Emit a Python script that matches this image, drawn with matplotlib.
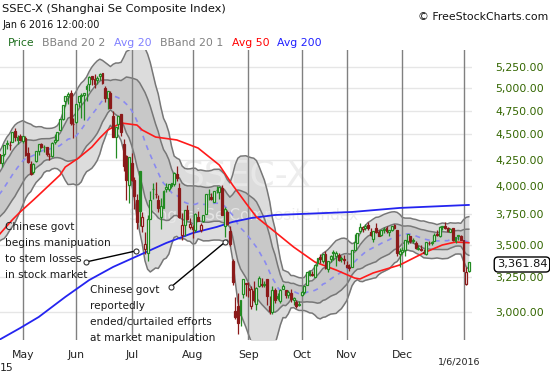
import numpy as np
import pandas as pd
import matplotlib
matplotlib.use("Agg")
import matplotlib.pyplot as plt
import matplotlib.transforms as mtransforms
from matplotlib.ticker import FixedLocator, NullLocator, FuncFormatter

plt.rcParams['font.family'] = ['DejaVu Sans']

# ---------------- data ----------------
holidays = ["2015-05-01", "2015-06-22", "2015-09-03", "2015-09-04", "2015-10-01",
            "2015-10-02", "2015-10-05", "2015-10-06", "2015-10-07", "2016-01-01"]
start_date, end_date = "2015-04-20", "2016-01-06"

# closes of the 19 sessions before the first candle (for the 20-day bands)
prior_close = [3687, 3691, 3660, 3682, 3691, 3786, 3748, 3810, 3825, 3863,
               3961, 3994, 3957, 4034, 4121, 4135, 4084, 4194, 4287]

open_ = [
    4301, 4212, 4304, 4400, 4395, 4423, 4537, 4445, 4483,
    4433, 4460, 4311, 4210, 4133, 4238, 4337, 4403, 4369, 4374, 4283, 4285, 4423, 4441, 4547, 4660, 4855, 4919, 4943, 4605,
    4633, 4844, 4924, 4920, 4991, 5045, 5145, 5049, 5101, 5143, 5174, 5004, 4890, 4942, 4689, 4471, 4604, 4711, 4399, 4289, 4006,
    4214, 4058, 3876, 4138, 3654, 3468, 3432, 3707, 3977, 3932, 3874, 3726, 3807, 3973, 3970, 4004, 4023, 4114, 3986, 3573, 3661, 3790, 3640,
    3643, 3620, 3731, 3614, 3694, 3754, 3932, 3904, 3860, 3961, 3943, 3986, 3647, 3767, 3610, 3373, 3005, 3041, 2978, 3125, 3204,
    3157, 3041, 3149, 3054, 3180, 3190, 3189, 3237, 3044, 2998, 3151, 3109, 3077, 3163, 3154, 3117, 3136, 3080, 3068, 3052,
    3120, 3139, 3190, 3267, 3275, 3253, 3355, 3398, 3373, 3423, 3310, 3385, 3442, 3410, 3420, 3390, 3380,
    3337, 3325, 3326, 3457, 3514, 3607, 3626, 3633, 3657, 3604, 3543, 3634, 3605, 3576, 3620, 3633, 3603, 3614, 3659, 3616, 3425,
    3443, 3459, 3528, 3565, 3532, 3515, 3461, 3464, 3442, 3425, 3512, 3513, 3527, 3582, 3568, 3643, 3648, 3632, 3604, 3632, 3528, 3566, 3570,
    3536, 3196, 3291]
high = [
    4356, 4293, 4398, 4444, 4432, 4529, 4572, 4499, 4507,
    4488, 4488, 4378, 4240, 4218, 4334, 4402, 4413, 4391, 4378, 4309, 4419, 4506, 4529, 4658, 4814, 4911, 4958, 4986, 4673,
    4829, 4916, 4951, 4952, 5052, 5146, 5147, 5164, 5139, 5178, 5176, 5030, 4969, 4966, 4744, 4577, 4691, 4720, 4457, 4297, 4279,
    4318, 4080, 3927, 4138, 3773, 3602, 3748, 3959, 4030, 4035, 3918, 3891, 3967, 4024, 4018, 4031, 4132, 4185, 4031, 3760, 3790, 3828, 3716,
    3662, 3757, 3782, 3679, 3747, 3928, 3971, 3940, 3955, 4001, 3994, 4006, 3811, 3790, 3652, 3388, 3103, 3132, 3084, 3233, 3205,
    3214, 3183, 3217, 3174, 3256, 3243, 3223, 3238, 3109, 3183, 3172, 3132, 3160, 3199, 3156, 3156, 3165, 3105, 3084, 3074,
    3150, 3184, 3290, 3297, 3292, 3338, 3394, 3422, 3425, 3447, 3370, 3420, 3457, 3451, 3432, 3411, 3420,
    3367, 3348, 3459, 3586, 3596, 3674, 3650, 3665, 3684, 3632, 3607, 3678, 3619, 3617, 3640, 3654, 3618, 3648, 3668, 3621, 3470,
    3483, 3538, 3585, 3570, 3555, 3530, 3500, 3493, 3464, 3522, 3528, 3526, 3590, 3615, 3651, 3652, 3684, 3643, 3636, 3636, 3564, 3573, 3580,
    3538, 3328, 3362]
low = [
    4205, 4180, 4287, 4358, 4340, 4423, 4432, 4408, 4441,
    4415, 4286, 4221, 4099, 4116, 4222, 4296, 4359, 4321, 4283, 4247, 4270, 4404, 4437, 4546, 4656, 4800, 4820, 4597, 4468,
    4615, 4797, 4669, 4648, 4855, 4969, 5036, 5001, 5054, 5099, 5048, 4842, 4767, 4780, 4476, 4264, 4552, 4483, 4139, 3876, 3848,
    4043, 3795, 3629, 3653, 3600, 3421, 3373, 3707, 3887, 3891, 3769, 3627, 3802, 3947, 3953, 3981, 4001, 4045, 3716, 3537, 3565, 3704, 3623,
    3549, 3602, 3689, 3598, 3685, 3754, 3878, 3877, 3857, 3935, 3883, 3743, 3558, 3658, 3490, 3191, 2953, 2851, 2906, 3098, 3109,
    3102, 3020, 3066, 3011, 3175, 3178, 3178, 3049, 2983, 2984, 3060, 3083, 3065, 3161, 3098, 3100, 3070, 3051, 3027, 3039,
    3108, 3127, 3190, 3260, 3258, 3250, 3334, 3358, 3359, 3310, 3290, 3366, 3380, 3332, 3372, 3362, 3351,
    3320, 3297, 3325, 3457, 3513, 3597, 3599, 3614, 3621, 3572, 3524, 3592, 3566, 3566, 3592, 3593, 3571, 3609, 3629, 3412, 3327,
    3428, 3408, 3506, 3513, 3510, 3467, 3455, 3448, 3422, 3414, 3494, 3494, 3527, 3565, 3564, 3614, 3623, 3598, 3601, 3532, 3515, 3538, 3538,
    3295, 3190, 3288]
close = [
    4217, 4293, 4398, 4414, 4394, 4527, 4476, 4476, 4441,
    4480, 4298, 4229, 4112, 4205, 4333, 4401, 4375, 4378, 4308, 4284, 4417, 4446, 4529, 4658, 4814, 4910, 4941, 4620, 4612,
    4828, 4910, 4910, 4947, 5023, 5131, 5113, 5106, 5121, 5166, 5062, 4887, 4967, 4785, 4478, 4576, 4690, 4527, 4192, 4053, 4277,
    4053, 3913, 3687, 3776, 3727, 3507, 3710, 3878, 3970, 3925, 3805, 3823, 3958, 3992, 4017, 4027, 4124, 4071, 3726, 3663, 3789, 3706, 3664,
    3623, 3756, 3695, 3661, 3745, 3928, 3928, 3887, 3955, 3965, 3994, 3748, 3794, 3665, 3508, 3210, 2965, 2927, 3084, 3232, 3206,
    3166, 3160, 3080, 3170, 3243, 3198, 3200, 3114, 3005, 3152, 3086, 3097, 3156, 3186, 3116, 3142, 3093, 3100, 3038, 3053,
    3143, 3183, 3287, 3293, 3263, 3338, 3391, 3386, 3425, 3320, 3369, 3412, 3429, 3434, 3375, 3387, 3383,
    3325, 3317, 3459, 3522, 3590, 3646, 3640, 3650, 3632, 3580, 3607, 3604, 3568, 3617, 3630, 3610, 3616, 3647, 3635, 3436, 3445,
    3456, 3537, 3585, 3525, 3537, 3470, 3472, 3455, 3435, 3520, 3511, 3516, 3580, 3578, 3643, 3651, 3636, 3612, 3628, 3533, 3563, 3573, 3539,
    3296, 3288, 3362]

# 50-day and 200-day averages (session number, value)
ma50_day = [0, 5, 8, 13, 15, 23, 25, 30, 35, 38, 41, 46, 52, 54, 59, 67, 75, 83, 88, 93,
            97, 104, 111, 119, 127, 134, 136, 141, 151, 160, 167, 172, 177]
ma50_val = [3577, 3702, 3770, 3875, 3919, 4102, 4178, 4265, 4373, 4464, 4546, 4620, 4598, 4546,
            4474, 4444, 4363, 4197, 4010, 3848, 3727, 3602, 3480, 3363, 3302, 3242, 3235, 3280,
            3340, 3433, 3496, 3520, 3514]
ma200_day = [0, 8, 15, 25, 34, 43, 53, 63, 73, 82, 88, 95, 104, 114, 133, 151, 177]
ma200_val = [2814, 2892, 2966, 3105, 3227, 3325, 3417, 3512, 3593, 3643, 3685, 3718, 3744,
             3753, 3770, 3805, 3831]

yticks = [3000, 3250, 3500, 3750, 4000, 4250, 4500, 4750, 5000, 5250]
month_names = ["May", "Jun", "Jul", "Aug", "Sep", "Oct", "Nov", "Dec"]
last_price = 3361.84

# ---------------- derived ----------------
dates = pd.bdate_range(start_date, end_date)
dates = dates[~dates.isin(pd.to_datetime(holidays))]
n = len(close)
x = np.arange(n)
O, H, L, C = map(np.array, (open_, high, low, close))
allc = pd.Series(list(prior_close) + list(close), dtype=float)
sma = allc.rolling(20).mean().values[len(prior_close):]
sd = allc.rolling(20).std(ddof=0).values[len(prior_close):]
up2, lo2 = sma + 2 * sd, sma - 2 * sd
up1, lo1 = sma + sd, sma - sd

ym = pd.Series(dates.year * 100 + dates.month)
first_idx = [int(i) for i in ym.drop_duplicates().index]
month_idx = first_idx[1:9]
year_idx = first_idx[9]

# ---------------- figure ----------------
W, Hh = 550, 375
fig = plt.figure(figsize=(W / 100, Hh / 100), dpi=100)
ax = fig.add_axes([0 / W, (Hh - 340) / Hh, 472 / W, 290 / Hh])
ax.set_yscale('log')
ax.set_ylim(2814, 5458)
ax.set_xlim(0.4, 178.2)
for s in ax.spines.values():
    s.set_visible(False)

ax.yaxis.set_major_locator(FixedLocator(yticks))
ax.yaxis.set_minor_locator(NullLocator())
ax.yaxis.set_major_formatter(FuncFormatter(lambda v, p: f"{v:,.2f}"))
ax.yaxis.tick_right()
ax.tick_params(axis='y', length=0, pad=17, labelsize=7.8, labelcolor='#336600')
ax.set_xticks([])
for yv in yticks:
    ax.axhline(yv, color='#e6e6e6', lw=1, zorder=0)

# Bollinger bands
ax.fill_between(x, lo2, up2, color='#dcdcdc', lw=0, zorder=1)
ax.fill_between(x, lo1, up1, color='#c8c8c8', lw=0, zorder=1.1)

# watermark
ax.text(0.523, 0.567, "SSEC-X", transform=ax.transAxes, fontsize=26, color='#eaeaea',
        alpha=0.85, ha='center', va='center', zorder=1.5)
ax.text(0.515, 0.428, "Shanghai Se Composite Index", transform=ax.transAxes, fontsize=11,
        color='#eaeaea', alpha=0.85, ha='center', va='center', zorder=1.5)

for band in (up2, lo2, up1, lo1):
    ax.plot(x, band, color='#777777', lw=1.1, zorder=2)

for mi in month_idx + [year_idx]:
    ax.axvline(mi, color='#808080', lw=1, zorder=2.2)

ax.plot(x, sma, color='#8a8af0', lw=1.2, dashes=(3, 3), zorder=2.3)
ax.plot(ma200_day, ma200_val, color='#2424f0', lw=1.3, zorder=3)
ax.plot(ma50_day, ma50_val, color='#ff1a1a', lw=1.2, zorder=3)

# candles
prevC = np.concatenate([[prior_close[-1]], C[:-1]])
green, red = '#228b22', '#8b1a1a'
for i in range(n):
    col = green if C[i] >= prevC[i] else red
    top, bot = max(O[i], C[i]), min(O[i], C[i])
    if top - bot < 4:
        top, bot = top + 2.5, bot - 2.5
    ax.vlines(i, top, H[i], color=col, lw=0.9, zorder=4)
    ax.vlines(i, L[i], bot, color=col, lw=0.9, zorder=4)
    face = col if C[i] < O[i] else 'white'
    ax.bar(i, top - bot, bottom=bot, width=0.72, facecolor=face, edgecolor=col,
           linewidth=0.9, zorder=4.1)

# annotations (connector lines with small circles)
def connector(x1, y1, x2, y2):
    ax.plot([x1, x2], [y1, y2], color='black', lw=1, zorder=6)
    ax.plot([x1, x2], [y1, y2], ls='none', marker='o', ms=3.6, mfc='white',
            mec='#333333', mew=0.8, zorder=6.1)

connector(32.8, 3363, 51.6, 3449)
connector(64.8, 3176, 85.2, 3520)

def ftext(px, py, s, **kw):
    fig.text(px / W, 1 - py / Hh, s, **kw)

for k, line in enumerate(["Chinese govt", "begins manipuation", "to stem losses", "in stock market"]):
    ftext(5, 227 + 16 * k, line, fontsize=7.6, va='center', ha='left', color='#1a1a1a', zorder=7)
for k, line in enumerate(["Chinese govt", "reportedly", "ended/curtailed efforts", "at market manipulation"]):
    ftext(90, 290 + 16 * k, line, fontsize=7.6, va='center', ha='left', color='#1a1a1a', zorder=7)

# x labels
tb = mtransforms.blended_transform_factory(ax.transData, fig.transFigure)
for mi, nm in zip(month_idx, month_names):
    ax.text(mi, 1 - 355 / Hh, nm, transform=tb, fontsize=7.8, ha='center', va='center', color='#222222')
ax.text(year_idx - 1.7, 1 - 362 / Hh, "1/6/2016", transform=tb, fontsize=6.8, ha='center',
        va='center', color='#222222')
ftext(0, 368, "15", fontsize=7.8, ha='left', va='center', color='#222222')

# header
ftext(2, 9, "SSEC-X (Shanghai Se Composite Index)", fontsize=8.2, ha='left', va='center', color='#111111')
ftext(2, 25, "Jan 6 2016 12:00:00", fontsize=6.9, ha='left', va='center', color='#111111')
ftext(548, 17, "\u00a9 FreeStockCharts.com", fontsize=7.8, ha='right', va='center', color='#111111')
legend_items = [("Price", 8, '#1e6e1e'), ("BBand 20 2", 42, '#808080'), ("Avg 20", 114, '#8080ff'),
                ("BBand 20 1", 160, '#808080'), ("Avg 50", 232, '#ff0000'), ("Avg 200", 277, '#2020ff')]
for txt, px, col in legend_items:
    ftext(px, 43, txt, fontsize=7.8, ha='left', va='center', color=col)

# last price box
ftext(522, 264.5, f"{last_price:,.2f}", fontsize=8.2, ha='center', va='center', color='#111111',
      bbox=dict(boxstyle='round,pad=0.22,rounding_size=0.35', fc='white', ec='black', lw=1))

fig.savefig("out.png", dpi=100)
